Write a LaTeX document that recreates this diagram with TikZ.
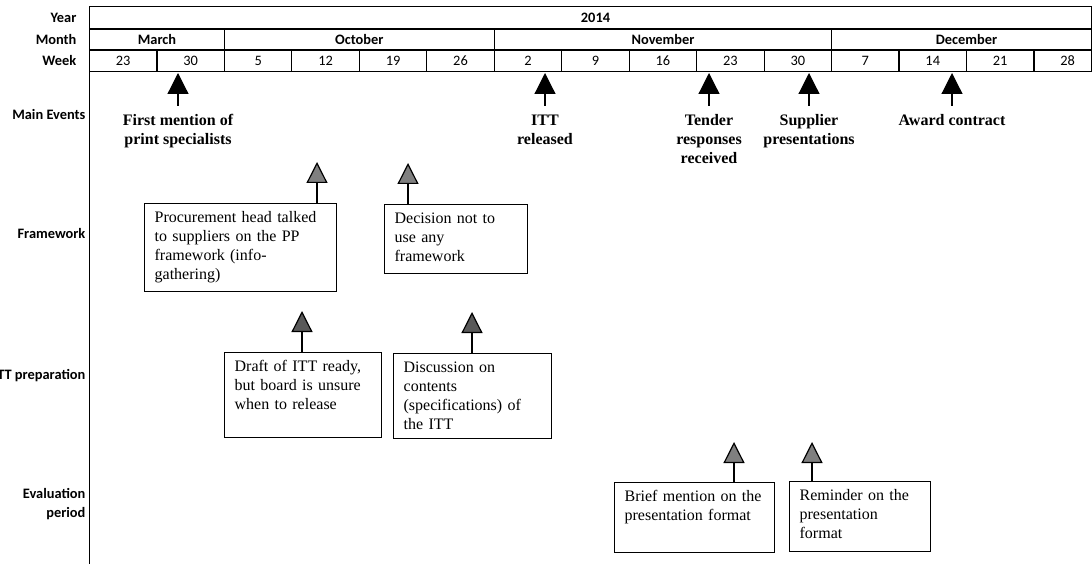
\documentclass[tikz,border=0pt]{standalone}
\usepackage{fontspec}
\setmainfont{Liberation Serif}
\newfontfamily\calibri{Carlito}
\usetikzlibrary{positioning,arrows.meta}
\definecolor{fwgrey}{HTML}{808080}
\definecolor{prepgrey}{HTML}{595959}
\definecolor{evgrey}{HTML}{7F7F7F}

\tikzset{
  rowlabel/.style={anchor=east,inner sep=0pt,align=right,
    font=\calibri\bfseries\fontsize{14.4}{19}\selectfont},
  cell/.style={font=\calibri\fontsize{14.4}{17}\selectfont},
  boldcell/.style={font=\calibri\bfseries\fontsize{14.4}{17}\selectfont},
  event/.style={align=center,inner sep=8pt,
    font=\bfseries\fontsize{16}{19}\selectfont},
  note/.style={draw,line width=1.3pt,anchor=north west,align=left,
    inner xsep=10pt,inner ysep=8pt,text height=11pt,
    font=\fontsize{16}{18.8}\selectfont},
  pointer/.style={line width=1.3pt,
    -{Triangle[width=21pt,length=21pt,line width=1.2pt,fill=#1]}},
}

\begin{document}
\begin{tikzpicture}[x=1pt,y=1pt,line width=1.2pt]
\useasboundingbox (0,0) rectangle (1092,-564);

% calendar header
\draw (89.5,-6.7) rectangle (1091.5,-71.3);
\draw (89.5,-29) -- (1091.5,-29);
\draw (89.5,-50) -- (1091.5,-50);
\foreach \c in {2,6,11}
  \draw (89.5+67.46*\c,-29) -- (89.5+67.46*\c,-71.3);
\foreach \c in {1,3,4,5,7,8,9,10,12,13,14}
  \draw (89.5+67.46*\c,-50) -- (89.5+67.46*\c,-71.3);
\draw (89.5,-71.3) -- (89.5,-564);

\node[rowlabel] (year)  at (77,-17.9) {Year};
\node[rowlabel] (month) at (77,-39.5) {Month};
\node[rowlabel] (week)  at (77,-60.7) {Week};

\node[boldcell] (y2014) at (595.5,-17.9) {2014};
\node[boldcell] (mar) at (157,-39.5) {March};
\node[boldcell] (oct) at (359.3,-39.5) {October};
\node[boldcell] (nov) at (663,-39.5) {November};
\node[boldcell] (dec) at (966.5,-39.5) {December};
\foreach \w [count=\i] in {23,30,5,12,19,26,2,9,16,23,30,7,14,21,28}
  \node[cell] (w\i) at (89.5+67.46*\i-33.73,-60.7) {\w};

% rows
\node[rowlabel] (mainev)  at (86,-115) {Main Events};
\node[rowlabel] (fwlab)   at (86,-234) {Framework};
\node[rowlabel] (preplab) at (86,-376) {ITT preparation};
\node[rowlabel] (evlab)   at (86,-504.5) {Evaluation\\period};

% main events
\coordinate (firsttip)    at (178,-73);
\coordinate (itttip)      at (545,-73);
\coordinate (tendertip)   at (709,-73);
\coordinate (suppliertip) at (809,-73);
\coordinate (awardtip)    at (952,-73);

\node[event] (first)    [below=33pt of firsttip]    {First mention of\\print specialists};
\node[event] (itt)      [below=33pt of itttip]      {ITT\\released};
\node[event] (tender)   [below=33pt of tendertip]   {Tender\\responses\\received};
\node[event] (supplier) [below=33pt of suppliertip] {Supplier\\presentations};
\node[event] (award)    [below=33pt of awardtip]    {Award contract};

\draw[pointer=black] (first.north)    -- (firsttip);
\draw[pointer=black] (itt.north)      -- (itttip);
\draw[pointer=black] (tender.north)   -- (tendertip);
\draw[pointer=black] (supplier.north) -- (suppliertip);
\draw[pointer=black] (award.north)    -- (awardtip);

% framework
\node[note,text width=172pt,text depth=61pt] (fw1) at (144,-203)
  {Procurement head talked\\to suppliers on the PP\\framework (info-\\gathering)};
\node[note,text width=123pt,text depth=42pt] (fw2) at (384,-204)
  {Decision not to\\use any\\framework};
\coordinate (fw1tip) at (317,-162);
\coordinate (fw2tip) at (408,-163);
\draw[pointer=fwgrey] (fw1.north -| fw1tip) -- (fw1tip);
\draw[pointer=fwgrey] (fw2.north -| fw2tip) -- (fw2tip);

% ITT preparation
\node[note,text width=137pt,text depth=58pt] (prep1) at (224,-352)
  {Draft of ITT ready,\\but board is unsure\\when to release};
\node[note,text width=138pt,text depth=58pt] (prep2) at (393,-353)
  {Discussion on\\contents\\(specifications) of\\the ITT};
\coordinate (prep1tip) at (302,-311);
\coordinate (prep2tip) at (472,-312);
\draw[pointer=prepgrey] (prep1.north -| prep1tip) -- (prep1tip);
\draw[pointer=prepgrey] (prep2.north -| prep2tip) -- (prep2tip);

% evaluation period
\node[note,text width=140pt,text depth=43pt] (ev1) at (614,-482)
  {Brief mention on the\\presentation format};
\node[note,text width=121pt,text depth=43pt] (ev2) at (789,-481)
  {Reminder on the\\presentation\\format};
\coordinate (ev1tip) at (734,-442);
\coordinate (ev2tip) at (812,-442);
\draw[pointer=evgrey] (ev1.north -| ev1tip) -- (ev1tip);
\draw[pointer=evgrey] (ev2.north -| ev2tip) -- (ev2tip);
\end{tikzpicture}
\end{document}
